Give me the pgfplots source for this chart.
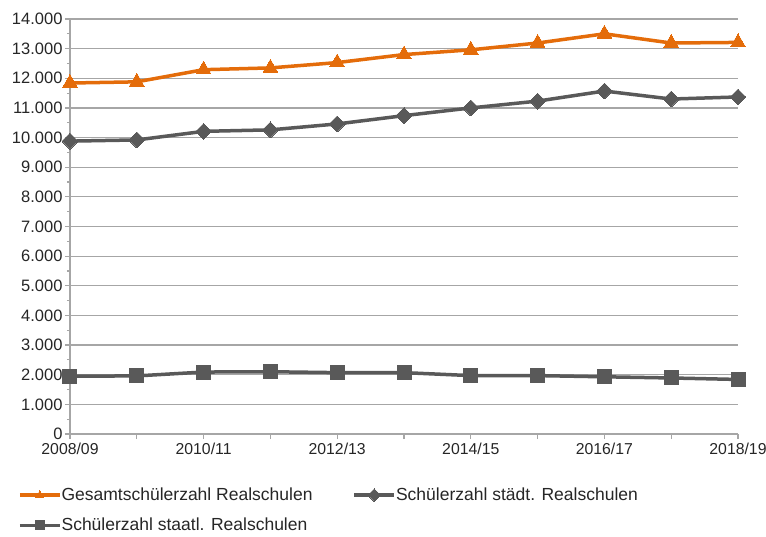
\documentclass[border=0pt]{standalone}
\usepackage{fontspec}
\setmainfont{Liberation Sans}
\usepackage{pgfplots}
\pgfplotsset{compat=1.18}
\definecolor{orangeL}{RGB}{228,108,10}
\definecolor{grayL}{RGB}{89,89,89}
\definecolor{gridL}{RGB}{166,166,166}
\definecolor{txt}{RGB}{38,38,38}
\begin{document}
\begin{tikzpicture}[x=1pt,y=1pt]
\path[use as bounding box] (-70,-102) rectangle (696,19+415);
\begin{axis}[
  at={(0,0)}, anchor=south west,
  scale only axis, width=668pt, height=415pt,
  xmin=0, xmax=10, ymin=0, ymax=14000,
  axis x line=bottom, axis y line=left,
  axis line style={gridL, line width=1.2pt, -},
  xtick={0,...,10},
  xticklabels={2008/09,,2010/11,,2012/13,,2014/15,,2016/17,,2018/19},
  ytick distance=1000,
  minor y tick num=1,
  scaled y ticks=false,
  ymajorgrids, major grid style={gridL, line width=1.2pt},
  x tick style={gridL, line width=1.2pt},
  y tick style={gridL, line width=1.2pt},
  major tick length=5pt, minor tick length=3pt,
  xtick pos=bottom, ytick pos=left,
  tick align=outside,
  yticklabel style={/pgf/number format/fixed, /pgf/number format/precision=0,
    /pgf/number format/1000 sep={.}, /pgf/number format/min exponent for 1000 sep=3,
    /pgf/number format/assume math mode=true, xshift=1pt, font=\fontsize{16.5}{19}\selectfont},
  ticklabel style={text=txt},
  xticklabel style={yshift=-1pt, font=\fontsize{15.8}{19}\selectfont},
  legend style={draw=none, fill=none, at={(-0.078,-0.125)}, anchor=north west,
    font=\fontsize{17.5}{21}\selectfont, text=txt,
    /tikz/every even column/.append style={column sep=38pt},
    /tikz/every odd column/.append style={column sep=-2pt},
    row sep=12pt, inner sep=0pt},
  legend columns=2,
  legend cell align=left,
  legend image code/.code={\draw[mark repeat=2,mark phase=2,#1,mark size=4.5pt] plot coordinates {(0pt,0pt) (20pt,0pt) (40pt,0pt)};},
  clip=false,
]
\addplot[color=orangeL, line width=3.5pt, mark=triangle*, mark size=8.5pt, mark options={solid, line width=0pt}]
 coordinates {(0,11840) (1,11880) (2,12290) (3,12350) (4,12530) (5,12800) (6,12960) (7,13190) (8,13500) (9,13190) (10,13210)};
\addlegendentry{Gesamtschülerzahl Realschulen}
\addplot[color=grayL, line width=3.5pt, mark=square*, mark size=5.6pt, mark options={solid, line width=0pt, rotate=45}]
 coordinates {(0,9880) (1,9920) (2,10210) (3,10260) (4,10460) (5,10740) (6,11000) (7,11230) (8,11570) (9,11300) (10,11370)};
\addlegendentry{Schülerzahl städt. Realschulen}
\addplot[color=grayL, line width=3.5pt, mark=square*, mark size=7pt, mark options={solid, line width=0pt}]
 coordinates {(0,1950) (1,1960) (2,2090) (3,2100) (4,2070) (5,2070) (6,1970) (7,1970) (8,1930) (9,1890) (10,1840)};
\addlegendentry{Schülerzahl staatl. Realschulen}
\end{axis}
\end{tikzpicture}
\end{document}
